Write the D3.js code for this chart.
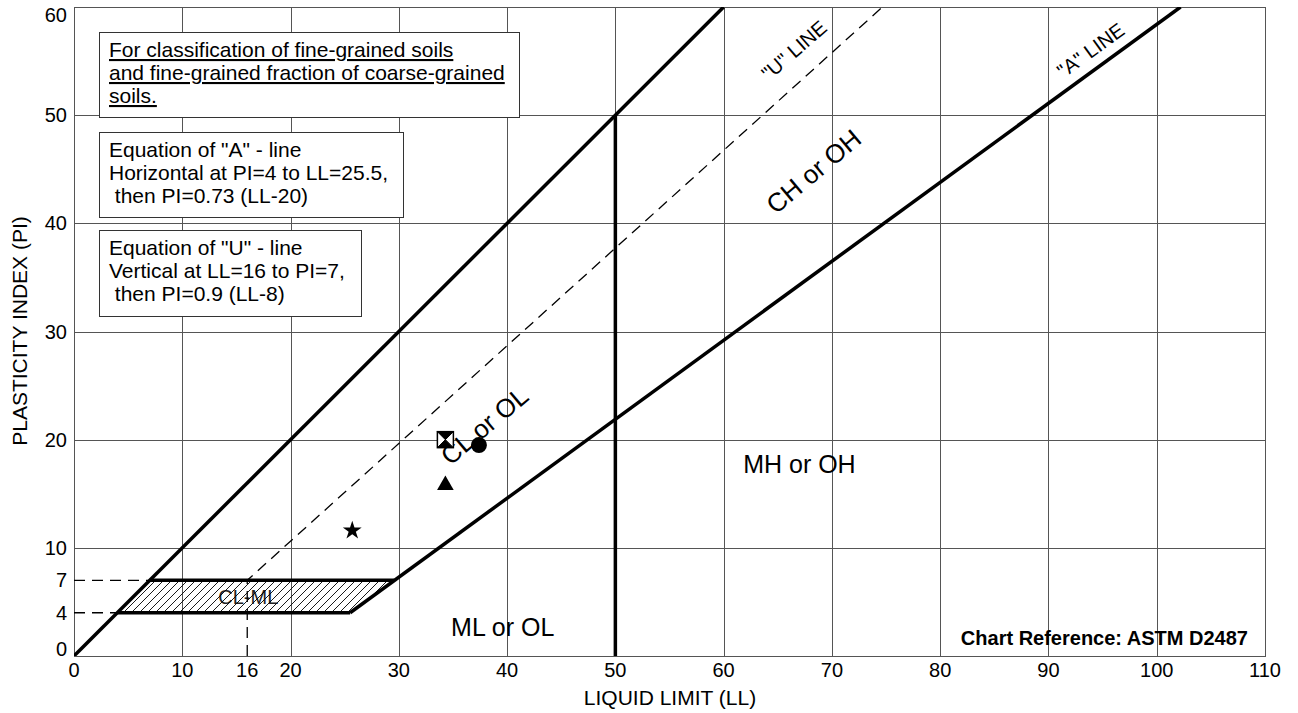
<!DOCTYPE html>
<html><head><meta charset="utf-8">
<script src="https://cdnjs.cloudflare.com/ajax/libs/d3/7.8.5/d3.min.js"></script>
<style>
html,body{margin:0;padding:0;background:#fff;}
svg{display:block;font-family:"Liberation Sans",Arial,Helvetica,sans-serif;}
</style></head>
<body>
<svg id="chart" width="1298" height="713"></svg>
<script>
// ---- data ----
const xTicks = [0,10,16,20,30,40,50,60,70,80,90,100,110];
const yTicks = [0,4,7,10,20,30,40,50,60];
const xGrid = [10,20,30,40,50,60,70,80,90,100];
const yGrid = [10,20,30,40,50];
const ppLine = [[0,0],[60,60]];                 // PI = LL boundary
const aLine = [[25.5,4],[102.2,60]];            // "A" line PI=0.73(LL-20)
const uLine = [[16,0],[16,7],[74.67,60]];       // "U" line
const llFifty = [[50,0],[50,50]];
const clmlZone = [[4,4],[25.5,4],[29.59,7],[7,7]];
const clmlEdges = [[[4,4],[25.5,4]],[[7,7],[29.59,7]]];
const guideDashes = [[[0,7],[7,7]],[[0,4],[4,4]]];
const samples = [
  {ll:25.7, pi:11.6, shape:"star"},
  {ll:34.3, pi:20.0, shape:"hourglass"},
  {ll:34.3, pi:15.8, shape:"triangle"},
  {ll:37.4, pi:19.5, shape:"circle"}
];
const zoneLabels = [
  {t:"CH or OH", ll:68.3, pi:44.8, rot:-40, size:26},
  {t:"CL or OL", ll:37.9, pi:21.3, rot:-40, size:26},
  {t:"MH or OH", ll:67.0, pi:17.7, rot:0, size:25},
  {t:"ML or OL", ll:39.6, pi:2.7, rot:0, size:25},
  {t:"\"U\" LINE", ll:66.5, pi:56.0, rot:-41, size:20},
  {t:"\"A\" LINE", ll:93.9, pi:56.0, rot:-36, size:20}
];
const box1 = ["For classification of fine-grained soils","and fine-grained fraction of coarse-grained","soils."];
const box2 = ["Equation of \"A\" - line","Horizontal at PI=4 to LL=25.5,"," then PI=0.73 (LL-20)"];
const box3 = ["Equation of \"U\" - line","Vertical at LL=16 to PI=7,"," then PI=0.9 (LL-8)"];

// ---- layout ----
const svg = d3.select("#chart");
const x = d3.scaleLinear().domain([0,110]).range([74,1265]);
const y = d3.scaleLinear().domain([0,60]).range([656,7]);
const line = d3.line().x(d=>x(d[0])).y(d=>y(d[1]));

const defs = svg.append("defs");
defs.append("clipPath").attr("id","plot").append("rect")
  .attr("x",x(0)).attr("y",y(60)).attr("width",x(110)-x(0)).attr("height",y(0)-y(60));
const pat = defs.append("pattern").attr("id","hatch").attr("patternUnits","userSpaceOnUse")
  .attr("width",8).attr("height",8);
pat.append("path").attr("d","M-2,2 L2,-2 M0,8 L8,0 M6,10 L10,6").attr("stroke","#000").attr("stroke-width",0.9);

// grid
const g = svg.append("g");
g.selectAll(".vg").data(xGrid).join("line")
  .attr("x1",d=>Math.round(x(d))+0.5).attr("x2",d=>Math.round(x(d))+0.5)
  .attr("y1",y(60)).attr("y2",y(0)).attr("stroke","#555").attr("stroke-width",1);
g.selectAll(".hg").data(yGrid).join("line")
  .attr("y1",d=>Math.round(y(d))+0.5).attr("y2",d=>Math.round(y(d))+0.5)
  .attr("x1",x(0)).attr("x2",x(110)).attr("stroke","#555").attr("stroke-width",1);
g.append("rect").attr("x",x(0)+0.5).attr("y",y(60)+0.5).attr("width",x(110)-x(0)).attr("height",y(0)-y(60))
  .attr("fill","none").attr("stroke","#555").attr("stroke-width",1);

// boxes
function box(lines, x0, y0, w, h, underline){
  const bg = svg.append("g");
  bg.append("rect").attr("x",x0+0.5).attr("y",y0+0.5).attr("width",w).attr("height",h)
    .attr("fill","#fff").attr("stroke","#333").attr("stroke-width",1);
  bg.selectAll("text").data(lines).join("text")
    .attr("x",x0+10).attr("y",(d,i)=>y0+25+i*23)
    .attr("font-size",21).attr("fill","#000")
    .attr("text-decoration",underline?"underline":null)
    .style("white-space","pre")
    .text(d=>d);
}
box(box1, 99, 32, 420, 85, true);
box(box2, 99, 132, 304, 85, false);
box(box3, 99, 230, 262, 86, false);

const plot = svg.append("g").attr("clip-path","url(#plot)");
// CL-ML zone
plot.append("text").attr("x",x(16.1)).attr("y",y(5.5)).attr("dy","0.35em")
  .attr("text-anchor","middle").attr("font-size",20).attr("fill","#222").text("CL-ML");
plot.append("path").attr("d",line(clmlZone)+"Z").attr("fill","url(#hatch)").attr("stroke","none");

// dashed lines
plot.append("path").attr("d",line(uLine)).attr("fill","none").attr("stroke","#000")
  .attr("stroke-width",1.3).attr("stroke-dasharray","11,7");
guideDashes.forEach(s=>plot.append("path").attr("d",line(s)).attr("fill","none")
  .attr("stroke","#000").attr("stroke-width",1.3).attr("stroke-dasharray","11,7"));

// thick lines
[ppLine, aLine, llFifty, ...clmlEdges].forEach(s=>plot.append("path").attr("d",line(s))
  .attr("fill","none").attr("stroke","#000").attr("stroke-width",3.5).attr("stroke-linecap","butt"));

// zone labels
zoneLabels.forEach(l=>{
  plot.append("text").attr("transform",`translate(${x(l.ll)},${y(l.pi)}) rotate(${l.rot})`)
    .attr("text-anchor","middle").attr("dy","0.35em").attr("font-size",l.size).attr("fill","#000").text(l.t);
});

// samples
const sym = {
  star: d3.symbol().type(d3.symbolStar).size(110),
  triangle: d3.symbol().type(d3.symbolTriangle).size(120),
  circle: d3.symbol().type(d3.symbolCircle).size(200)
};
samples.forEach(s=>{
  const cx = x(s.ll), cy = y(s.pi);
  if(s.shape==="hourglass"){
    const h=8;
    const hg = svg.append("g").attr("transform",`translate(${cx},${cy})`);
    hg.append("rect").attr("x",-h).attr("y",-h).attr("width",2*h).attr("height",2*h).attr("fill","#fff").attr("stroke","#000").attr("stroke-width",1.5);
    hg.append("path").attr("d",`M${-h},${-h}L${h},${-h}L0,0Z M${-h},${h}L${h},${h}L0,0Z`).attr("fill","#000");
    hg.append("path").attr("d",`M${-h},${-h}L${h},${h}M${h},${-h}L${-h},${h}`).attr("stroke","#000").attr("stroke-width",1);
  } else {
    svg.append("path").attr("transform",`translate(${cx},${cy})`).attr("d",sym[s.shape]()).attr("fill","#000");
  }
});

// axes labels
svg.append("g").selectAll("text").data(yTicks).join("text")
  .attr("x",67).attr("y",d=>Math.min(649,Math.max(15,y(d)))).attr("dy","0.35em")
  .attr("text-anchor","end").attr("font-size",20).text(d=>d);
svg.append("g").selectAll("text").data(xTicks).join("text")
  .attr("x",d=>x(d)).attr("y",677).attr("text-anchor","middle").attr("font-size",20).text(d=>d);
svg.append("text").attr("x",670).attr("y",705).attr("text-anchor","middle").attr("font-size",21).text("LIQUID LIMIT (LL)");
svg.append("text").attr("transform","translate(27,331) rotate(-90)").attr("text-anchor","middle").attr("font-size",21).text("PLASTICITY INDEX (PI)");
svg.append("text").attr("x",1248).attr("y",645).attr("text-anchor","end").attr("font-size",20).attr("font-weight","bold").text("Chart Reference: ASTM D2487");
</script>
</body></html>
